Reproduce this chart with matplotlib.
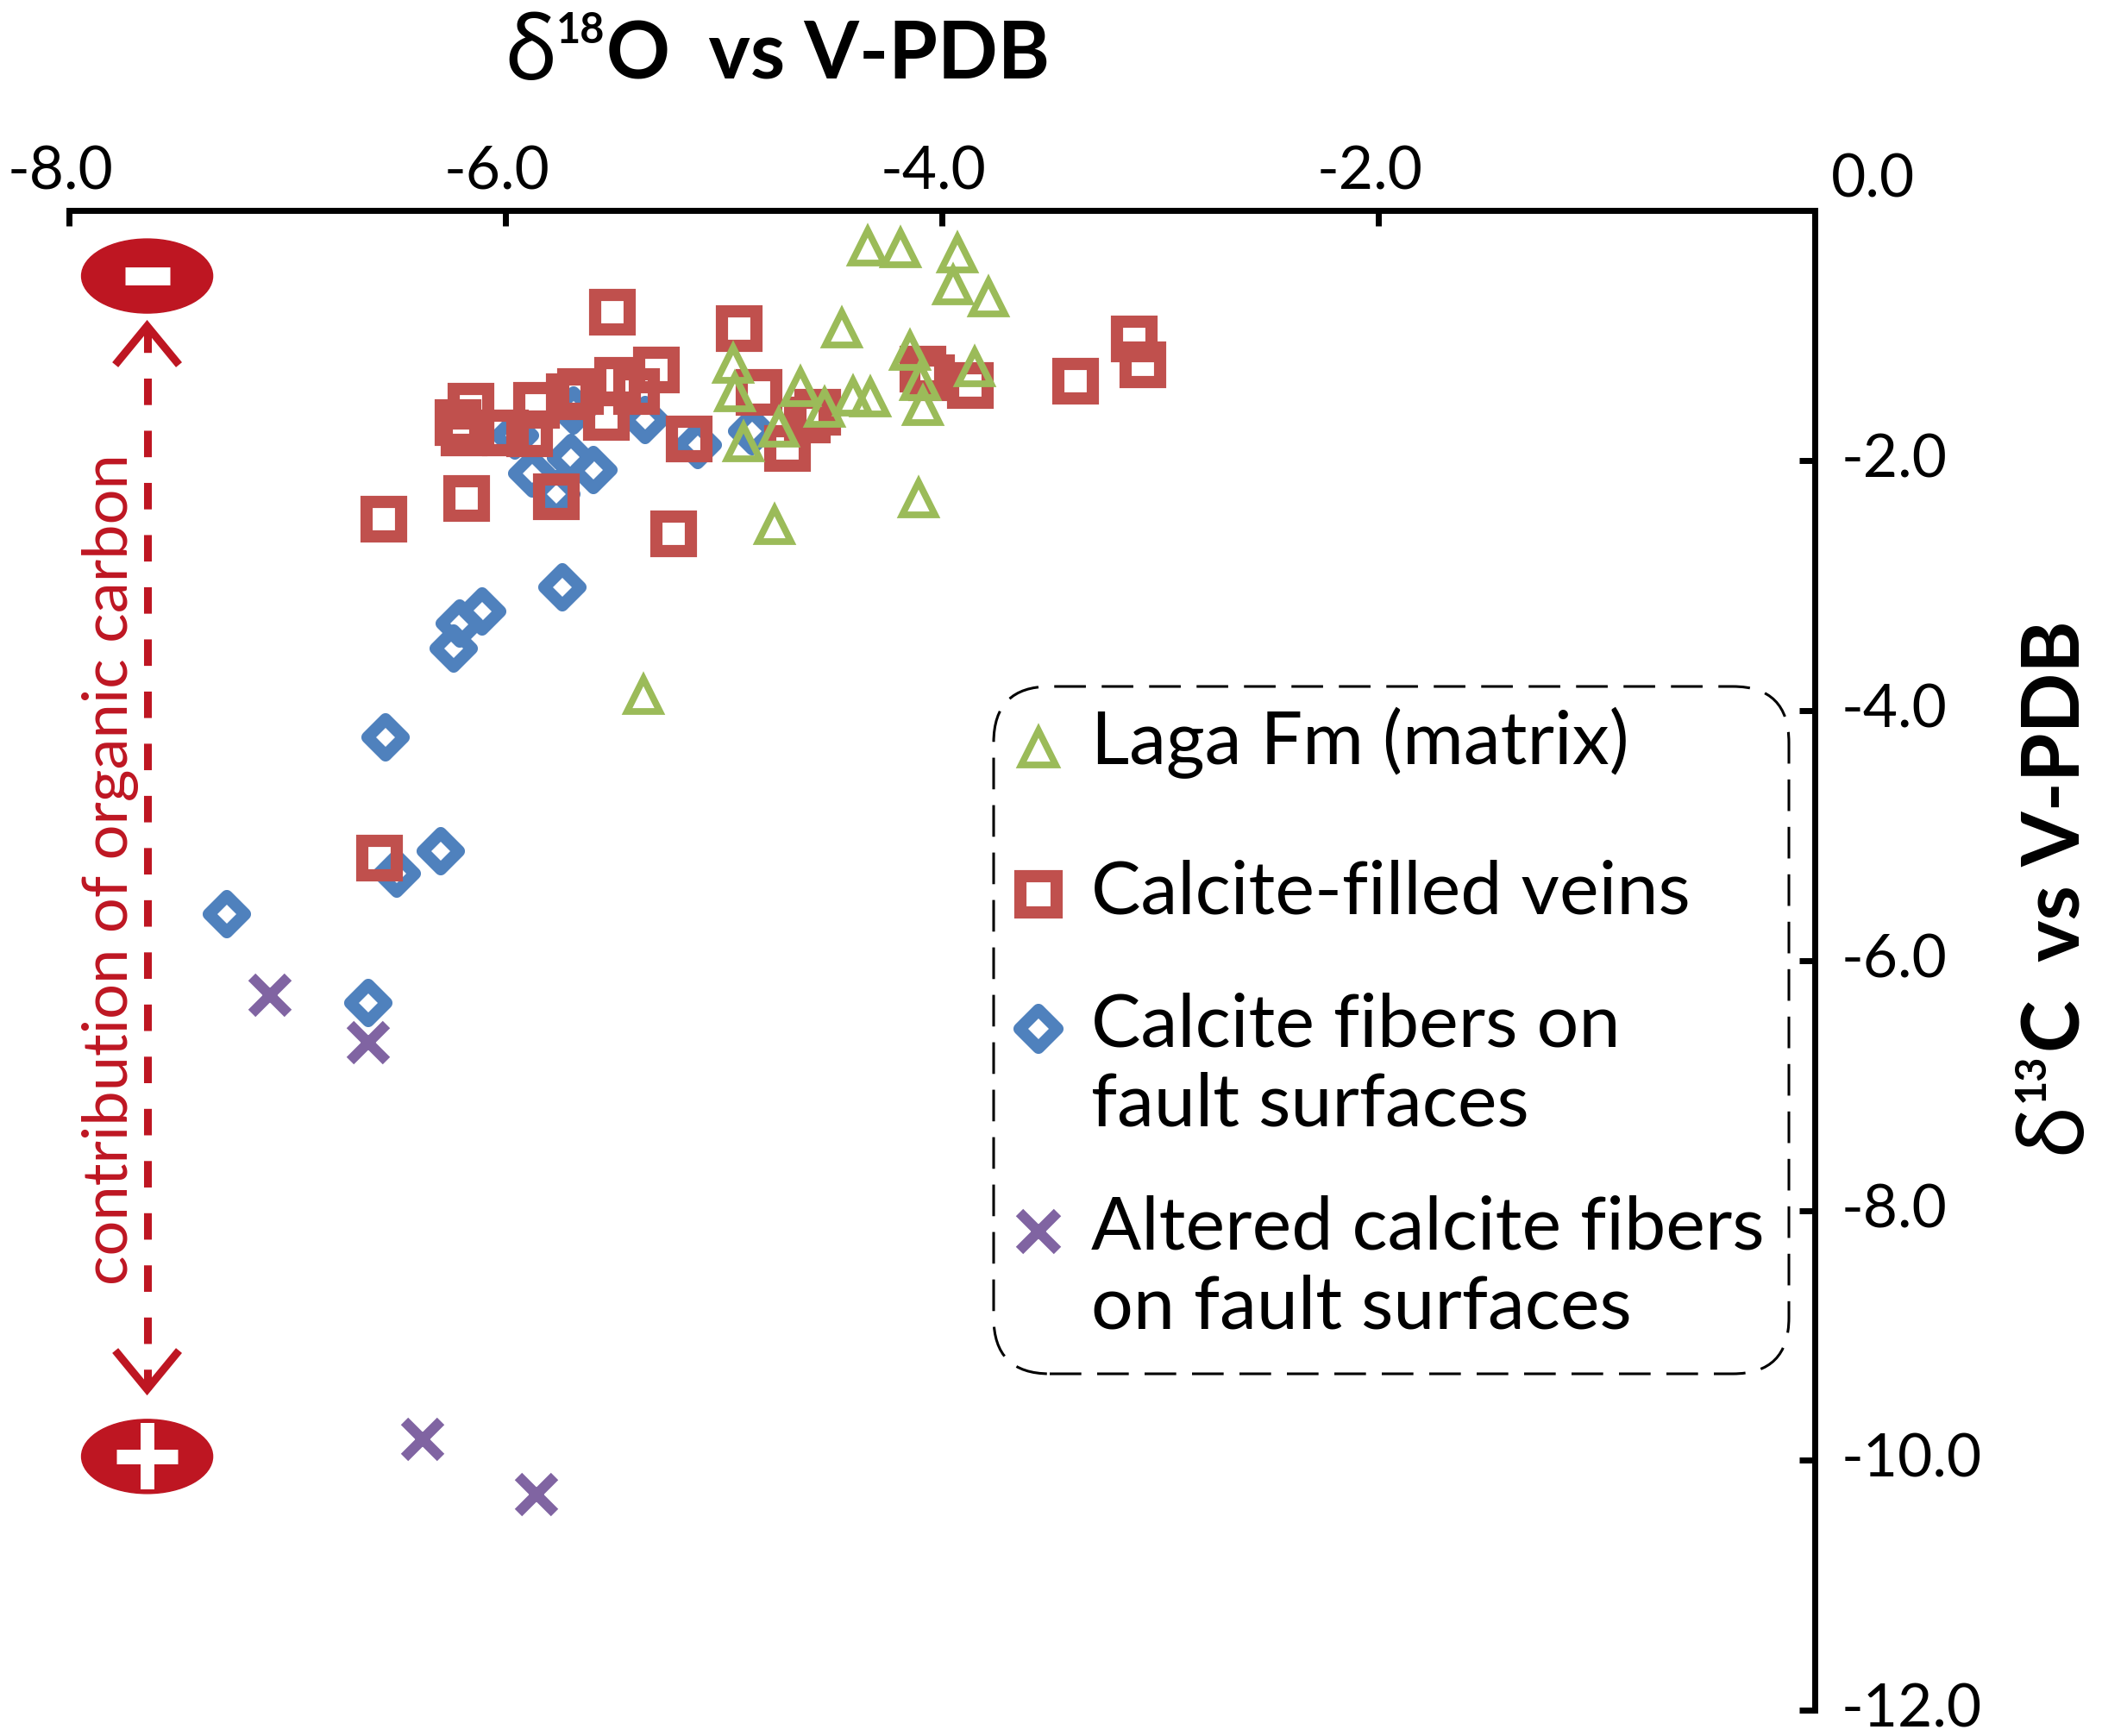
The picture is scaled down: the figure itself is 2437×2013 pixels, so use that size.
import matplotlib
matplotlib.use('agg')
import matplotlib.pyplot as plt
import matplotlib.transforms as mtransforms
from matplotlib.markers import MarkerStyle
from matplotlib.patches import Ellipse, FancyBboxPatch

plt.rcParams['font.family'] = ['Lato', 'DejaVu Sans']
plt.rcParams['axes.unicode_minus'] = False

# ---- data (delta18O, delta13C vs V-PDB) ----
laga_x = [-4.34, -4.19, -3.93, -3.95, -3.79, -4.46, -4.96, -4.95, -4.15, -4.10, -4.09,
          -3.85, -4.65, -4.41, -4.33, -4.54, -4.75, -4.91, -4.11, -4.77, -5.37]
laga_y = [-0.29, -0.31, -0.35, -0.60, -0.70, -0.95, -1.23, -1.46, -1.13, -1.37, -1.57,
          -1.26, -1.42, -1.49, -1.50, -1.58, -1.74, -1.86, -2.31, -2.52, -3.88]

veins_x = [-5.51, -4.93, -5.31, -5.49, -5.40, -5.66, -5.71, -5.86, -6.16, -6.22, -6.19,
           -6.00, -5.89, -5.54, -5.16, -4.84, -4.57, -4.62, -4.71, -4.09, -4.05, -3.87,
           -6.56, -6.18, -5.77, -5.23, -3.39, -3.12, -3.08, -6.58]
veins_y = [-0.82, -0.95, -1.28, -1.36, -1.45, -1.45, -1.49, -1.56, -1.57, -1.70, -1.78,
           -1.78, -1.79, -1.66, -1.83, -1.46, -1.62, -1.68, -1.91, -1.27, -1.34, -1.40,
           -2.47, -2.31, -2.29, -2.59, -1.37, -1.03, -1.24, -5.18]

fibers_x = [-5.69, -5.36, -5.96, -5.88, -5.70, -5.60, -5.77, -5.12, -4.87, -5.74, -6.11,
            -6.21, -6.24, -6.55, -6.30, -6.50, -7.28, -6.63]
fibers_y = [-1.60, -1.68, -1.80, -2.11, -1.98, -2.08, -2.27, -1.88, -1.77, -3.02, -3.21,
            -3.31, -3.51, -4.22, -5.13, -5.31, -5.63, -6.34]

altered_x = [-7.08, -6.63, -6.38, -5.86]
altered_y = [-6.28, -6.66, -9.83, -10.27]

legend_labels = [['Laga Fm (matrix)'],
                 ['Calcite-filled veins'],
                 ['Calcite fibers on', 'fault surfaces'],
                 ['Altered calcite fibers', 'on fault surfaces']]

x_ticks = [-8, -6, -4, -2, 0]
x_ticklabels = ['-8.0', '-6.0', '-4.0', '-2.0', '']
y_ticks = [0, -2, -4, -6, -8, -10, -12]
y_ticklabels = ['', '-2.0', '-4.0', '-6.0', '-8.0', '-10.0', '-12.0']

green = '#9BBB59'
red = '#C0504D'
blue = '#4F81BD'
purple = '#8064A2'
dark_red = '#BE1622'

# marker styles (Excel-like hollow markers)
styles = [
    dict(marker='^', ms=27.7, mew=5.6, mec=green, z=5),
    dict(marker='s', ms=28.7, mew=10.2, mec=red, z=4),
    dict(marker=MarkerStyle('D', joinstyle='round'), ms=20.9, mew=10.2, mec=blue, z=2),
    dict(marker='x', ms=30, mew=8.6, mec=purple, z=3),
]
series = [(laga_x, laga_y), (veins_x, veins_y), (fibers_x, fibers_y), (altered_x, altered_y)]

fig = plt.figure(figsize=(24.37, 20.13), dpi=100)
ax = fig.add_axes([0.03303, 0.014655, 0.83053, 0.86438])
ax.set_xlim(-8, 0)
ax.set_ylim(-12, 0)

for (sx, sy), st in zip(series, styles):
    ax.plot(sx, sy, ls='none', marker=st['marker'], ms=st['ms'], mew=st['mew'],
            mec=st['mec'], mfc='none', zorder=st['z'], clip_on=False)

# axes: only top and right spines
for side in ['left', 'bottom']:
    ax.spines[side].set_visible(False)
for side in ['top', 'right']:
    ax.spines[side].set_linewidth(5)
ax.xaxis.tick_top()
ax.yaxis.tick_right()
ax.set_xticks(x_ticks)
ax.set_xticklabels(x_ticklabels)
ax.set_yticks(y_ticks)
ax.set_yticklabels(y_ticklabels)
ax.tick_params(axis='x', direction='in', length=13, width=5, pad=9, labelsize=50)
ax.tick_params(axis='y', direction='in', length=13, width=5, pad=22, labelsize=50)
# Excel puts the x labels a touch left of their ticks, y labels a touch high
shift_left = mtransforms.ScaledTranslation(-0.10, 0, fig.dpi_scale_trans)
for lab in ax.get_xticklabels():
    lab.set_transform(lab.get_transform() + shift_left)
for lab in ax.get_yticklabels():
    lab.set_verticalalignment('center')
# the shared "0.0" label sits above-right of the corner
corner = ax.transData + mtransforms.ScaledTranslation(13 / 72, 29 / 72, fig.dpi_scale_trans)
ax.text(0, 0, '0.0', transform=corner, ha='left', va='center_baseline', fontsize=50)

# ---- axis titles, built from pieces so the superscript stays small ----
base_y = 0.9543
t1 = fig.text(0.240, base_y, 'δ', fontsize=74, fontweight='bold',
              family=['Noto Sans', 'DejaVu Sans'], ha='left', va='baseline')
t2 = ax.annotate('18', xy=(1, base_y), xycoords=(t1, 'figure fraction'), xytext=(0, 30),
                 textcoords='offset points', fontsize=35, fontweight='bold', va='baseline')
t3 = ax.annotate('O  vs V-PDB', xy=(1, base_y), xycoords=(t2, 'figure fraction'),
                 xytext=(1, 0), textcoords='offset points', fontsize=66, fontweight='bold',
                 va='baseline')

base_x = 0.9895
r1 = fig.text(base_x, 0.3353, 'δ', fontsize=74, fontweight='bold',
              family=['Noto Sans', 'DejaVu Sans'],
              rotation=90, rotation_mode='anchor', ha='left', va='baseline')
r2 = ax.annotate('13', xy=(base_x, 1), xycoords=('figure fraction', r1), xytext=(-30, 0),
                 textcoords='offset points', fontsize=35, fontweight='bold',
                 rotation=90, rotation_mode='anchor', ha='left', va='baseline')
r3 = ax.annotate('C  vs V-PDB', xy=(base_x, 1), xycoords=('figure fraction', r2),
                 xytext=(0, 1), textcoords='offset points', fontsize=66, fontweight='bold',
                 rotation=90, rotation_mode='anchor', ha='left', va='baseline')

# ---- organic carbon arrow on the left ----
xa = -7.644
ax.plot([xa, xa], [-0.93, -9.43], color=dark_red, lw=6.5, ls=(0, (3.4, 3.3)),
        solid_capstyle='butt', zorder=6)
for apex, arm in [(-0.928, -1.238), (-9.431, -9.121)]:
    ax.plot([xa - 0.146, xa, xa + 0.146], [arm, apex, arm], color=dark_red, lw=6.5,
            solid_joinstyle='miter', solid_capstyle='butt', zorder=6)
for yc in [-0.528, -9.968]:
    ax.add_patch(Ellipse((xa, yc), width=0.601, height=0.593, color=dark_red, zorder=6))
ax.plot([xa - 0.103, xa + 0.103], [-0.528, -0.528], color='white', lw=15,
        solid_capstyle='butt', zorder=7)
ax.plot([xa - 0.140, xa + 0.140], [-9.968, -9.968], color='white', lw=12.2,
        solid_capstyle='butt', zorder=7)
ax.plot([xa, xa], [-9.968 - 0.266, -9.968 + 0.266], color='white', lw=11.5,
        solid_capstyle='butt', zorder=7)
ax.text(-7.733, -5.272, 'contribution of organic carbon', rotation=90, rotation_mode='anchor',
        ha='center', va='baseline', fontsize=52, color=dark_red)

# ---- legend, drawn by hand inside a dashed rounded box ----
box = FancyBboxPatch((11.52, 4.20), 9.22, 7.97, boxstyle='round,pad=0,rounding_size=0.65',
                     transform=fig.dpi_scale_trans, fill=False, ec='black', lw=2.2,
                     ls=(0, (12, 6)))
fig.add_artist(box)
key_y = [0.6418, 0.5440, 0.4543, 0.3194]
text_y = [0.6309, 0.5313, 0.4425, 0.3072]
line_step = 92 / 1740
for st, lines, ky, ty in zip(styles, legend_labels, key_y, text_y):
    ax.plot([0.555], [ky], transform=ax.transAxes, ls='none', marker=st['marker'],
            ms=st['ms'] * 1.05, mew=st['mew'], mec=st['mec'], mfc='none', clip_on=False)
    for j, line in enumerate(lines):
        ax.text(0.5853, ty - j * line_step, line, transform=ax.transAxes, ha='left',
                va='baseline', fontsize=62)

fig.savefig('out.png', dpi=100, facecolor='white')
